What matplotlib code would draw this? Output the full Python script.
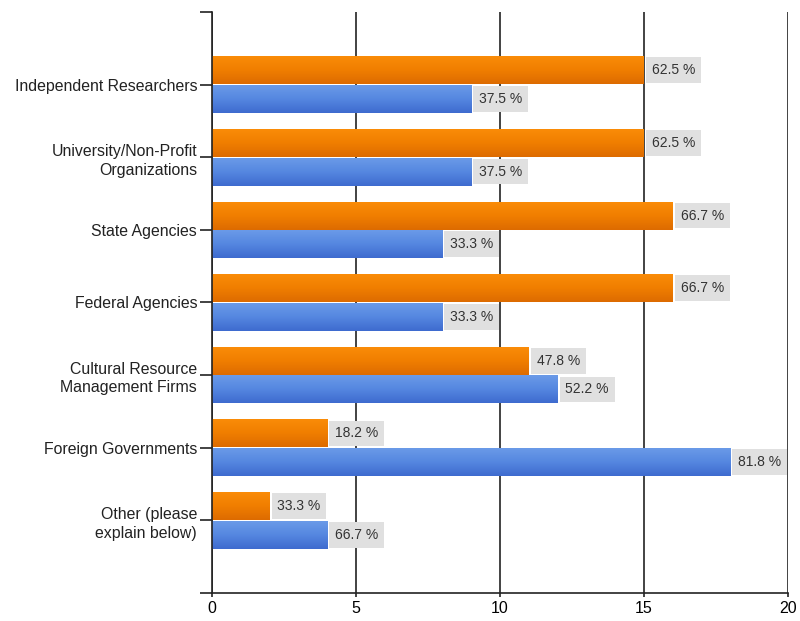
import numpy as np
import matplotlib.pyplot as plt
from matplotlib.colors import LinearSegmentedColormap

# ---------------- data ----------------
categories = [
    "Independent Researchers",
    "University/Non-Profit\nOrganizations",
    "State Agencies",
    "Federal Agencies",
    "Cultural Resource\nManagement Firms",
    "Foreign Governments",
    "Other (please\nexplain below)",
]
orange_counts = [15, 15, 16, 16, 11, 4, 2]
blue_counts = [9, 9, 8, 8, 12, 18, 4]
orange_pct = ["62.5 %", "62.5 %", "66.7 %", "66.7 %", "47.8 %", "18.2 %", "33.3 %"]
blue_pct = ["37.5 %", "37.5 %", "33.3 %", "33.3 %", "52.2 %", "81.8 %", "66.7 %"]
x_ticks = [0, 5, 10, 15, 20]

plt.rcParams["font.family"] = ["Liberation Sans", "DejaVu Sans"]

fig = plt.figure(figsize=(8, 6.21), dpi=100)
ax = fig.add_axes([0.265, 0.0451, 0.72, 0.9356])

ypos = np.arange(1, len(categories) + 1)
bar_h = 0.385

orange_cmap = LinearSegmentedColormap.from_list("o", ["#fa8c08", "#f07e00", "#dd6b00"])
blue_cmap = LinearSegmentedColormap.from_list("b", ["#6a9ae8", "#5587e0", "#3e6bcf"])

def gradient_bars(bars, cmap):
    # light at the top edge, darker towards the bottom edge
    grad = np.linspace(0, 1, 64).reshape(-1, 1)
    for b in bars:
        x0, y0 = b.get_x(), b.get_y()
        w, h = b.get_width(), b.get_height()
        im = ax.imshow(grad, cmap=cmap, aspect="auto", zorder=2,
                       extent=[x0, x0 + w, y0 + h, y0], origin="upper")
        im.set_clip_path(b)

ob = ax.barh(ypos - bar_h / 2 - 0.005, orange_counts, height=bar_h,
             color="#f07f00", zorder=2)
bb = ax.barh(ypos + bar_h / 2 + 0.005, blue_counts, height=bar_h,
             color="#5587e0", zorder=2)
gradient_bars(ob, orange_cmap)
gradient_bars(bb, blue_cmap)

# value labels in grey boxes
def add_labels(bars, labels):
    for b, lab in zip(bars, labels):
        y = b.get_y() + b.get_height() / 2
        ax.text(b.get_width() + 0.27, y, lab, ha="left", va="center",
                fontsize=10, color="#333333", zorder=4,
                bbox=dict(boxstyle="square,pad=0.42", fc="#e0e0e0", ec="none"))

add_labels(ob, orange_pct)
add_labels(bb, blue_pct)

ax.set_xlim(0, 20)
ax.set_ylim(8, 0)
ax.set_xticks(x_ticks)
ax.set_xticklabels([str(t) for t in x_ticks], fontsize=11.5)
ax.set_yticks(ypos)
ax.set_yticklabels(categories, fontsize=11.4, color="#222222", linespacing=1.32)
ax.set_yticks([0, 8], minor=True)
ax.tick_params(axis="y", which="both", length=8.7, width=1.2, color="#222222", pad=2)
ax.tick_params(axis="x", length=3, width=1.2, color="#222222", pad=3)

ax.xaxis.grid(True, color="#222222", linewidth=1.2, zorder=0)
ax.set_axisbelow(True)
for s in ["top", "right"]:
    ax.spines[s].set_visible(False)
for s in ["left", "bottom"]:
    ax.spines[s].set_linewidth(1.2)
    ax.spines[s].set_color("#222222")

fig.savefig("out.png", dpi=100)
